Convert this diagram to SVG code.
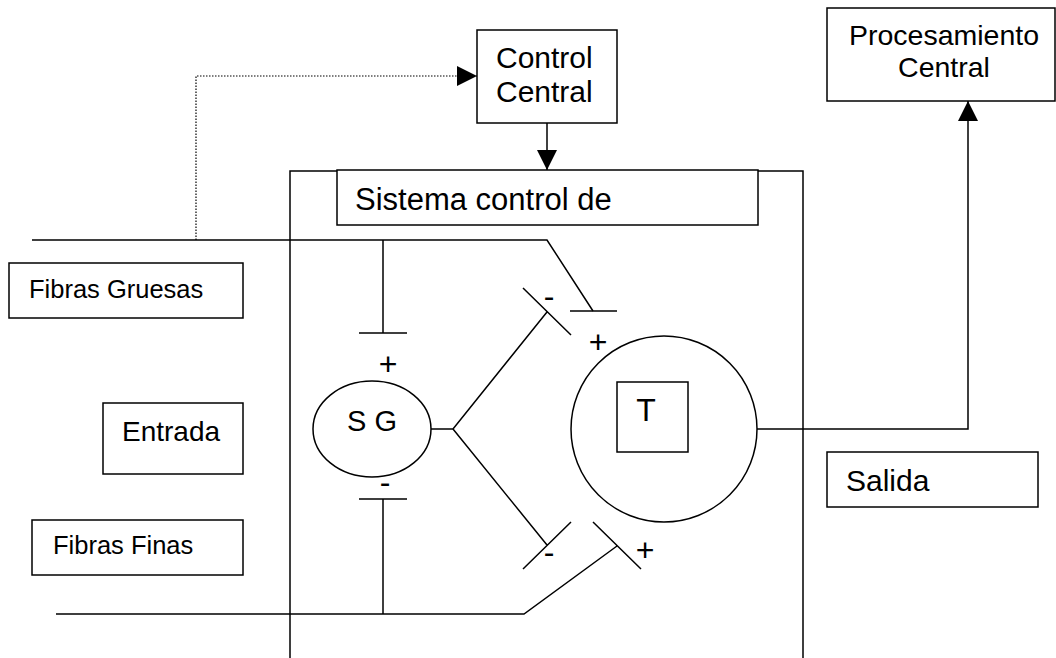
<svg xmlns="http://www.w3.org/2000/svg" width="1056" height="658" viewBox="0 0 1056 658">
<style>
  .box{fill:#fff;stroke:#000;stroke-width:1.5}
  .ln{fill:none;stroke:#000;stroke-width:1.5}
  .dot{fill:none;stroke:#000;stroke-width:1.2;stroke-dasharray:1.5 1.5}
  text{font-family:"Liberation Sans",Arial,sans-serif;fill:#000}
</style>
<defs>
  <marker id="ah" markerWidth="20" markerHeight="20" viewBox="0 0 20 20" refX="20" refY="10" orient="auto" markerUnits="userSpaceOnUse">
    <path d="M0,0 L20,10 L0,20 Z" fill="#000"/>
  </marker>
</defs>
<rect width="1056" height="658" fill="#fff"/>

<g id="outer-box">
  <path class="ln" d="M290,660 V171 H803 V660"/>
</g>

<g id="connectors">
  <path class="dot" d="M196,240 V76 H477" marker-end="url(#ah)"/>
  <path class="ln" d="M547,123 V170" marker-end="url(#ah)"/>
  <path class="ln" d="M32,240 H547 L593,311"/>
  <path class="ln" d="M570,311 H617"/>
  <path class="ln" d="M383,240 V333 M359,333 H407"/>
  <path class="ln" d="M431,429 H453 L547,312 M523,288 L571,335"/>
  <path class="ln" d="M453,429 L547,545 M523,569 L571,522"/>
  <path class="ln" d="M359,499 H407 M383,499 V614"/>
  <path class="ln" d="M56,614 H524 L617,546 M593,522 L641,569"/>
  <path class="ln" d="M757,429 H968 V101" marker-end="url(#ah)"/>
</g>

<g id="control-central">
  <rect class="box" x="477" y="30" width="140" height="93"/>
  <text x="496" y="68" font-size="30">Control</text>
  <text x="496" y="102" font-size="30">Central</text>
</g>

<g id="sistema-control">
  <rect class="box" x="337" y="170" width="421" height="55"/>
  <text x="355" y="210" font-size="31">Sistema control de</text>
</g>

<g id="procesamiento-central">
  <rect class="box" x="827" y="8" width="228" height="93"/>
  <text x="944" y="45" font-size="28.5" text-anchor="middle">Procesamiento</text>
  <text x="944" y="77" font-size="28.5" text-anchor="middle">Central</text>
</g>

<g id="fibras-gruesas">
  <rect class="box" x="9" y="263" width="234" height="55"/>
  <text x="29" y="298" font-size="25.5">Fibras Gruesas</text>
</g>

<g id="entrada">
  <rect class="box" x="103" y="403" width="140" height="71"/>
  <text x="122" y="441" font-size="28">Entrada</text>
</g>

<g id="fibras-finas">
  <rect class="box" x="32" y="520" width="211" height="55"/>
  <text x="53" y="554" font-size="25.5">Fibras Finas</text>
</g>

<g id="salida">
  <rect class="box" x="827" y="452" width="211" height="55"/>
  <text x="846" y="491" font-size="30">Salida</text>
</g>

<g id="sg">
  <ellipse class="box" cx="372" cy="429" rx="59" ry="48"/>
  <text x="372" y="431" font-size="29" text-anchor="middle">S G</text>
</g>

<g id="t-cell">
  <circle class="box" cx="664" cy="429" r="93"/>
  <rect class="box" x="617" y="382" width="71" height="70"/>
  <text x="646" y="421" font-size="32" text-anchor="middle">T</text>
</g>

<g id="signs" font-size="32">
  <text x="388" y="375" text-anchor="middle">+</text>
  <text x="385" y="493" text-anchor="middle">-</text>
  <text x="549" y="307" text-anchor="middle">-</text>
  <text x="598" y="353" text-anchor="middle">+</text>
  <text x="549" y="563" text-anchor="middle">-</text>
  <text x="645" y="561" text-anchor="middle">+</text>
</g>
</svg>
